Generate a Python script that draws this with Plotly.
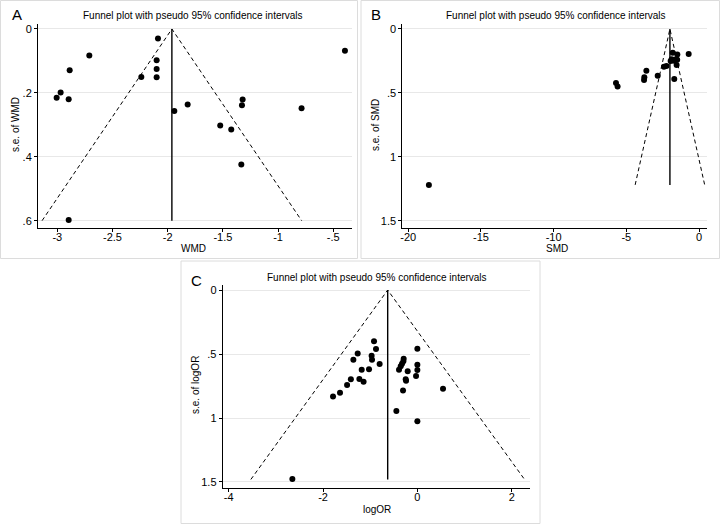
import plotly.graph_objects as go

# ---------------- data ----------------
# Panel A: WMD
wmd = [-2.088, -2.71, -2.888, -2.10, -2.10, -2.10, -2.239, -2.97, -3.006, -2.897,
       -0.394, -1.94, -1.819, -1.321, -1.327, -0.787, -1.524, -1.424, -1.333, -2.897]
se_wmd = [0.030, 0.083, 0.129, 0.098, 0.125, 0.151, 0.150, 0.199, 0.215, 0.220,
          0.068, 0.257, 0.236, 0.221, 0.239, 0.248, 0.302, 0.315, 0.424, 0.598]
pooled_wmd = -1.962
semax_wmd = 0.60

# Panel B: SMD
smd = [-18.58, -5.71, -5.60, -3.62, -3.76, -3.78, -2.84, -2.41, -2.24, -1.81,
       -1.49, -1.88, -1.72, -1.58, -1.54, -1.70, -0.71, -1.50, -1.95]
se_smd = [1.22, 0.423, 0.451, 0.326, 0.378, 0.400, 0.365, 0.295, 0.290, 0.185,
          0.200, 0.237, 0.248, 0.237, 0.282, 0.391, 0.196, 0.240, 0.250]
pooled_smd = -2.0
semax_smd = 1.22

# Panel C: logOR
logor = [-2.65, -1.788, -1.64, -1.49, -1.41, -1.23, -1.14, -1.18, -1.025, -1.357,
         -1.265, -0.97, -0.961, -0.919, -0.877, -0.80, -0.445, -0.304, -0.389, -0.353,
         -0.325, -0.297, -0.29, -0.247, -0.24, -0.205, -0.028, 0.0, 0.0, 0.0,
         0.0, 0.544]
se_logor = [1.477, 0.831, 0.802, 0.742, 0.698, 0.695, 0.716, 0.622, 0.620, 0.544,
            0.495, 0.513, 0.544, 0.401, 0.461, 0.578, 0.945, 0.786, 0.622, 0.596,
            0.576, 0.557, 0.536, 0.698, 0.708, 0.635, 0.672, 0.458, 0.583, 0.625,
            1.026, 0.771]
pooled_logor = -0.629
semax_logor = 1.48

title_text = "Funnel plot with pseudo 95% confidence intervals"

# tick labels
a_xticks = [-3, -2.5, -2, -1.5, -1, -0.5]
a_xlabels = ["-3", "-2.5", "-2", "-1.5", "-1", "-.5"]
a_yticks = [0, 0.2, 0.4, 0.6]
a_ylabels = ["0", ".2", ".4", ".6"]
b_xticks = [-20, -15, -10, -5, 0]
b_xlabels = ["-20", "-15", "-10", "-5", "0"]
b_yticks = [0, 0.5, 1, 1.5]
b_ylabels = ["0", ".5", "1", "1.5"]
c_xticks = [-4, -2, 0, 2]
c_xlabels = ["-4", "-2", "0", "2"]
c_yticks = [0, 0.5, 1, 1.5]
c_ylabels = ["0", ".5", "1", "1.5"]

W, H = 720, 524
FONT = "Arial, Liberation Sans, sans-serif"

def px(x):
    return x / W

def py(y):
    return 1 - y / H

fig = go.Figure()

panels = [
    dict(x=wmd, y=se_wmd, th=pooled_wmd, sm=semax_wmd, xa="x", ya="y"),
    dict(x=smd, y=se_smd, th=pooled_smd, sm=semax_smd, xa="x2", ya="y2"),
    dict(x=logor, y=se_logor, th=pooled_logor, sm=semax_logor, xa="x3", ya="y3"),
]

for p in panels:
    th, sm = p["th"], p["sm"]
    fig.add_trace(go.Scatter(
        x=[th - 1.96 * sm, th, th + 1.96 * sm], y=[sm, 0, sm],
        mode="lines", line=dict(color="black", width=1, dash="4px,3px"),
        xaxis=p["xa"], yaxis=p["ya"], showlegend=False, hoverinfo="skip"))
    fig.add_trace(go.Scatter(
        x=[th, th], y=[0, sm], mode="lines",
        line=dict(color="black", width=1.4),
        xaxis=p["xa"], yaxis=p["ya"], showlegend=False, hoverinfo="skip"))
    fig.add_trace(go.Scatter(
        x=p["x"], y=p["y"], mode="markers",
        marker=dict(color="black", size=6),
        xaxis=p["xa"], yaxis=p["ya"], showlegend=False))

TICKFONT = dict(size=11, color="black", family=FONT)

def xax(domain, rng, tv, tt, anchor):
    return dict(domain=domain, range=rng, tickvals=tv, ticktext=tt, anchor=anchor,
                showline=True, linecolor="black", linewidth=1, ticks="outside",
                ticklen=3, tickcolor="black", showgrid=False, zeroline=False,
                automargin=False, tickfont=TICKFONT)

def yax(domain, rng, tv, tt, anchor):
    return dict(domain=domain, range=rng, tickvals=tv, ticktext=tt, anchor=anchor,
                showline=True, linecolor="black", linewidth=1, ticks="outside",
                ticklen=3, tickcolor="black", showgrid=True, gridcolor="#e8e8e8",
                gridwidth=1, zeroline=False, automargin=False, tickfont=TICKFONT)

# domains in pixels -> paper
A_x = [px(38), px(352)]
B_x = [px(402.3), px(706.7)]
C_x = [px(222.7), px(530)]
AB_y = [py(227.7), py(24)]
C_y = [py(488), py(285.3)]

fig.update_layout(
    width=W, height=H,
    margin=dict(l=0, r=0, t=0, b=0, pad=0, autoexpand=False),
    paper_bgcolor="white", plot_bgcolor="white",
    font=dict(family=FONT, color="black"),
    xaxis=xax(A_x, [-3.175, -0.33], a_xticks, a_xlabels, "y"),
    yaxis=yax(AB_y, [0.622, -0.0156], a_yticks, a_ylabels, "x"),
    xaxis2=xax(B_x, [-20.41, 0.53], b_xticks, b_xlabels, "y2"),
    yaxis2=yax(AB_y, [1.555, -0.039], b_yticks, b_ylabels, "x2"),
    xaxis3=xax(C_x, [-4.127, 2.388], c_xticks, c_xlabels, "y3"),
    yaxis3=yax(C_y, [1.547, -0.037], c_yticks, c_ylabels, "x3"),
)

# pull x tick labels closer to the axis, as in the reference
try:
    for ax in ("xaxis", "xaxis2", "xaxis3"):
        fig.layout[ax].ticklabelstandoff = -4
except Exception:
    pass

# panel borders
for (x0, y0, x1, y1) in [(0.5, 0.5, 357.5, 258.5), (361, 0.5, 719.5, 258.5), (181, 261, 540, 523.5)]:
    fig.add_shape(type="rect", xref="paper", yref="paper",
                  x0=px(x0), x1=px(x1), y0=py(y1), y1=py(y0),
                  line=dict(color="#dcdcdc", width=1), fillcolor="rgba(0,0,0,0)", layer="below")

def ann(text, x, y, size, xanchor="center", angle=0):
    fig.add_annotation(text=text, x=px(x), y=py(y), xref="paper", yref="paper",
                       showarrow=False, xanchor=xanchor, yanchor="middle",
                       textangle=angle, font=dict(size=size, color="black", family=FONT))

# panel letters
ann("A", 10, 14.5, 15, xanchor="left")
ann("B", 369, 14.5, 15, xanchor="left")
ann("C", 189, 280, 15, xanchor="left")

# titles
ann(title_text, 193, 15.7, 10)
ann(title_text, 556, 15.7, 10)
ann(title_text, 376.5, 277.7, 10)

# x-axis titles
ann("WMD", 193, 248, 10)
ann("SMD", 556.7, 248, 10)
ann("logOR", 376.7, 509, 10)

# y-axis titles
ann("s.e. of WMD", 15, 125, 10, angle=-90)
ann("s.e. of SMD", 375, 125, 10, angle=-90)
ann("s.e. of logOR", 195, 385, 10, angle=-90)

fig.write_html(
    "out.html",
    config={"displayModeBar": False},
    post_script="document.body.style.margin='0';document.body.style.overflow='hidden';",
)
